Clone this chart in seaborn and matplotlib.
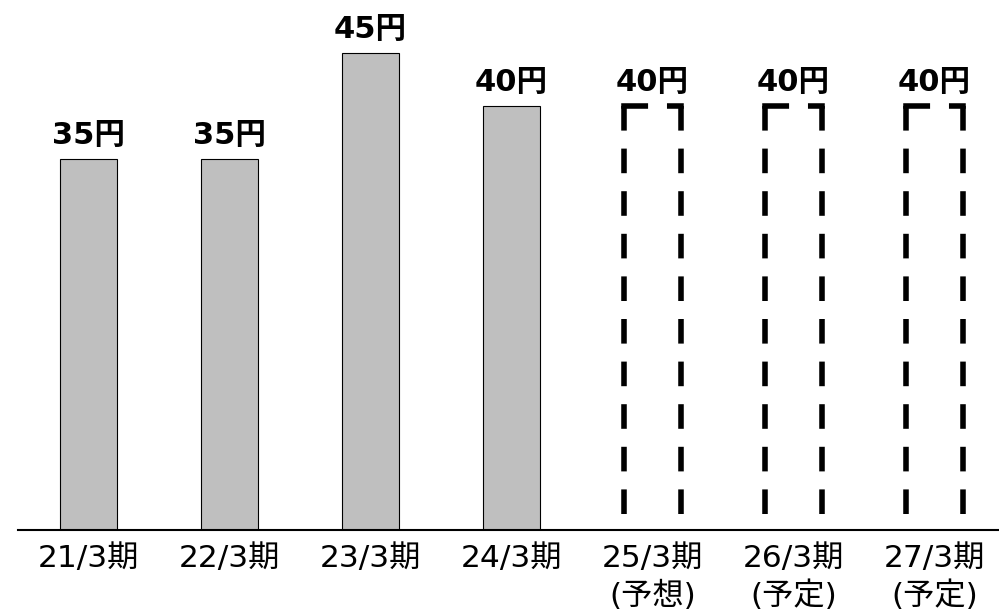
import matplotlib
matplotlib.use("Agg")
import matplotlib.pyplot as plt
import seaborn as sns
import pandas as pd

categories = ["21/3期", "22/3期", "23/3期", "24/3期",
              "25/3期\n(予想)", "26/3期\n(予定)", "27/3期\n(予定)"]
values = [35, 35, 45, 40, 40, 40, 40]
labels = ["35円", "35円", "45円", "40円", "40円", "40円", "40円"]
is_forecast = [False, False, False, False, True, True, True]

sns.set_theme(style="white")
plt.rcParams['font.family'] = ['DejaVu Sans', 'Noto Sans CJK JP']
plt.rcParams['lines.scale_dashes'] = False

W, H = 999, 609
fig = plt.figure(figsize=(W / 100, H / 100), dpi=100)
ax = fig.add_axes([18 / W, 79.5 / H, 981 / W, 529.5 / H])

df = pd.DataFrame({"cat": categories, "val": values})
sns.barplot(data=df, x="cat", y="val", order=categories, color="#BFBFBF",
            saturation=1, width=0.4, edgecolor="black", linewidth=0.8, ax=ax)

ax.set_xlim(-0.5, -0.5 + 981 / 141)
ax.set_ylim(0, 529.5 / 10.6)

px = 0.72  # points per pixel at dpi 100
lw = 4.0
for patch, fc in zip(ax.patches, is_forecast):
    if not fc:
        continue
    patch.set_visible(False)
    x0 = patch.get_x()
    x1 = x0 + patch.get_width()
    top = patch.get_height()
    for xs in (x0, x1):
        ax.plot([xs, xs], [top, 0], color="black", lw=lw,
                dashes=(24.6 * px, 18.0 * px), dash_capstyle="butt",
                solid_capstyle="butt", clip_on=False, zorder=3)
    ax.plot([x0, x1], [top, top], color="black", lw=lw,
            dashes=(21.3 * px, 24.45 * px), dash_capstyle="projecting",
            clip_on=False, zorder=3)

for i, (v, t) in enumerate(zip(values, labels)):
    ax.annotate(t, xy=(i, v), xytext=(0, 10.3), textcoords="offset points",
                ha="center", va="baseline", fontsize=22, fontweight="bold",
                color="black", annotation_clip=False)

for s in ["left", "right", "top"]:
    ax.spines[s].set_visible(False)
ax.spines["bottom"].set_color("black")
ax.spines["bottom"].set_linewidth(1.5)
ax.spines["bottom"].set_zorder(4)
ax.set_yticks([])
ax.set_xlabel("")
ax.set_ylabel("")
ax.tick_params(axis="x", length=0, pad=10.5, labelsize=22.5, colors="black")
for lab in ax.get_xticklabels():
    lab.set_linespacing(1.3)

fig.savefig("out.png", dpi=100)
